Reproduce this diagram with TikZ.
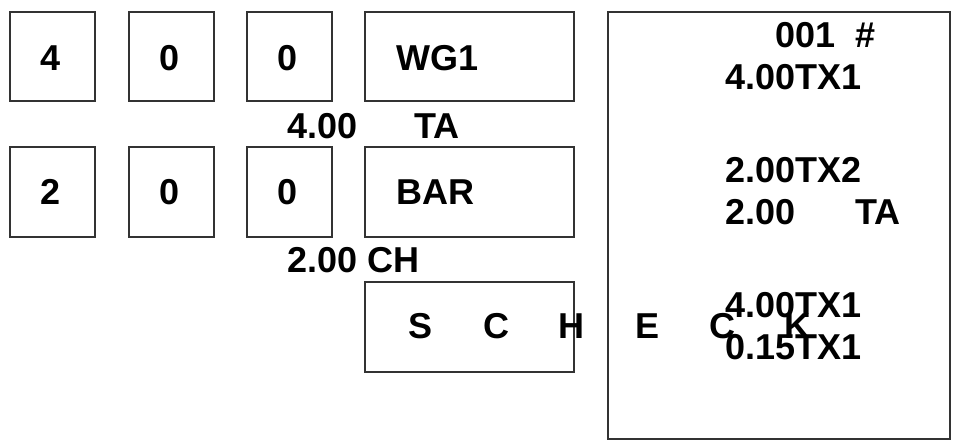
\documentclass[tikz,border=0pt]{standalone}
\usepackage{fontspec}
\setmainfont{Liberation Sans}
\begin{document}
\begin{tikzpicture}[x=1pt,y=-1pt,
  keybox/.style={draw=black!80, line width=2pt, rectangle, inner sep=0, anchor=north west},
  lab/.style={font=\bfseries\fontsize{36}{36}\selectfont, inner sep=0},
  clab/.style={lab, anchor=base},
  llab/.style={lab, anchor=base west}]
\useasboundingbox (0,0) rectangle (956,443);
% row 1
\node[keybox, minimum width=85, minimum height=89] (a1) at (9,11) {};
\node[keybox, minimum width=85, minimum height=89] (a2) at (128,11) {};
\node[keybox, minimum width=85, minimum height=89] (a3) at (246,11) {};
\node[keybox, minimum width=209, minimum height=89] (a4) at (364,11) {};
% row 2
\node[keybox, minimum width=85, minimum height=90] (b1) at (9,146) {};
\node[keybox, minimum width=85, minimum height=90] (b2) at (128,146) {};
\node[keybox, minimum width=85, minimum height=90] (b3) at (246,146) {};
\node[keybox, minimum width=209, minimum height=90] (b4) at (364,146) {};
% row 3
\node[keybox, minimum width=209, minimum height=90] (c4) at (364,281) {};
% receipt
\node[keybox, minimum width=342, minimum height=427] (r) at (607,11) {};
% key labels
\node[clab] (t1) at (51,71) {4};
\node[clab] (t2) at (170,71) {0};
\node[clab] (t3) at (288,71) {0};
\node[llab] (t4) at (396,71) {WG1};
\node[llab] (u1) at (287,139) {4.00};
\node[llab] (u2) at (414,139) {TA};
\node[clab] (s1) at (51,205) {2};
\node[clab] (s2) at (170,205) {0};
\node[clab] (s3) at (288,205) {0};
\node[llab] (s4) at (396,205) {BAR};
\node[llab] (v1) at (287,273) {2.00 CH};
% SCHECK
\node[clab] (k1) at (421,339) {S};
\node[clab] (k2) at (496,339) {C};
\node[clab] (k3) at (571,339) {H};
\node[clab] (k4) at (647,339) {E};
\node[clab] (k5) at (722,339) {C};
\node[clab] (k6) at (797,339) {K};
% receipt lines
\node[llab] (r1) at (775,48) {001};
\node[llab] (r1b) at (855,48) {\#};
\node[llab] (r2) at (725,90) {4.00TX1};
\node[llab] (r3) at (725,183) {2.00TX2};
\node[llab] (r4) at (725,225) {2.00};
\node[llab] (r4b) at (855,225) {TA};
\node[llab] (r5) at (725,318) {4.00TX1};
\node[llab] (r6) at (725,360) {0.15TX1};
\end{tikzpicture}
\end{document}
